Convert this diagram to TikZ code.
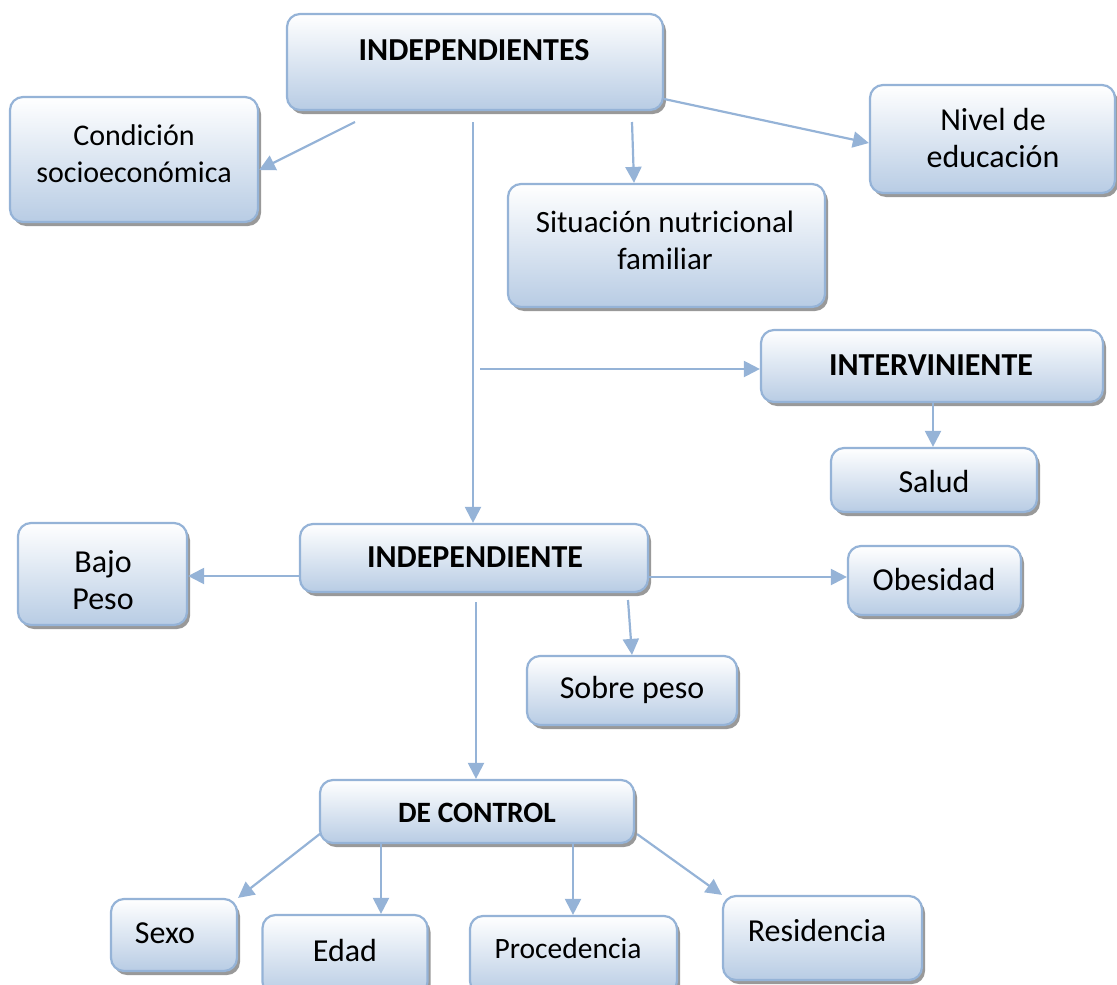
\documentclass[tikz,border=0pt]{standalone}
\usepackage{fontspec}
\setmainfont{Carlito}
\usetikzlibrary{shadows,arrows.meta}
\definecolor{boxborder}{HTML}{95B3D7}
\definecolor{boxblue}{HTML}{B8CCE4}
\definecolor{arrowblue}{HTML}{95B3D7}
\tikzset{
  box/.style={draw=boxborder, line width=2.2pt, rounded corners=13pt,
    top color=white, bottom color=boxblue, inner sep=0pt,
    drop shadow={shadow xshift=3pt, shadow yshift=-4pt, fill=gray!80, opacity=1}},
  txt/.style={inner sep=0pt, align=center, font=\fontsize{32}{37}\selectfont},
  btxt/.style={inner sep=0pt, align=center, font=\fontsize{32}{37}\selectfont\bfseries},
  arr/.style={draw=arrowblue, line width=2.2pt, -{Triangle[length=16pt,width=16pt]}},
}
\begin{document}
\begin{tikzpicture}[x=1pt,y=-1pt]
\useasboundingbox (0,0) rectangle (1117,985);
\clip (0,0) rectangle (1117,985);
% boxes
\node[box, minimum width=376pt, minimum height=96pt] (indeps) at (475,62) {};
\node[box, minimum width=248pt, minimum height=125pt] (cond) at (134,159.5) {};
\node[box, minimum width=245pt, minimum height=108pt] (nivel) at (992.5,139) {};
\node[box, minimum width=317pt, minimum height=123pt] (sit) at (666.5,245.5) {};
\node[box, minimum width=342pt, minimum height=72pt] (interv) at (932,366) {};
\node[box, minimum width=206pt, minimum height=64pt] (salud) at (934,480) {};
\node[box, minimum width=348pt, minimum height=68pt] (indep) at (474,558) {};
\node[box, minimum width=169pt, minimum height=102pt] (bajo) at (102.5,574) {};
\node[box, minimum width=173pt, minimum height=69pt] (obes) at (934.5,580.5) {};
\node[box, minimum width=210pt, minimum height=69pt] (sobre) at (632,690.5) {};
\node[box, minimum width=314pt, minimum height=63pt] (control) at (477,811.5) {};
\node[box, minimum width=126pt, minimum height=72pt] (sexo) at (174,935) {};
\node[box, minimum width=165pt, minimum height=80pt] (edad) at (345,955) {};
\node[box, minimum width=207pt, minimum height=78pt] (proc) at (573.5,955) {};
\node[box, minimum width=199pt, minimum height=84pt] (resid) at (822.5,938) {};
% texts
\node[btxt] (indeps-t) at (474,50) {INDEPENDIENTES};
\node[txt, font=\fontsize{30}{37}\selectfont] (cond-t) at (134,153.5) {Condición\\socioeconómica};
\node[txt] (nivel-t) at (993,138.5) {Nivel de\\educación};
\node[txt, font=\fontsize{31}{37}\selectfont] (sit-t) at (665,240) {Situación nutricional\\familiar};
\node[btxt] (interv-t) at (931,365) {INTERVINIENTE};
\node[txt] (salud-t) at (934,482) {Salud};
\node[btxt] (indep-t) at (475,557) {INDEPENDIENTE};
\node[txt] (bajo-t) at (103,580) {Bajo\\Peso};
\node[txt] (obes-t) at (934,580) {Obesidad};
\node[txt] (sobre-t) at (632,690) {Sobre peso};
\node[btxt, font=\fontsize{29.5}{37}\selectfont\bfseries] (control-t) at (477,813) {DE CONTROL};
\node[txt] (sexo-t) at (165,933) {Sexo};
\node[txt] (edad-t) at (345,950) {Edad};
\node[txt, font=\fontsize{29.5}{37}\selectfont] (proc-t) at (568,948) {Procedencia};
\node[txt] (resid-t) at (817,930) {Residencia};
% free ends
\coordinate (s1) at (355,122);
\coordinate (s2) at (632,122);
\coordinate (s3) at (473,122);
\coordinate (s4) at (480,369);
\coordinate (s5) at (628,600);
\coordinate (s6) at (476,602);
% connectors
\draw[arr] (s1) -- (cond.east |- 0,170);
\draw[arr] (indeps.east |- 0,99) -- (nivel.west |- 0,143);
\draw[arr] (s2) -- (sit.north -| 634,0);
\draw[arr] (s3) -- (indep.north -| 473,0);
\draw[arr] (s4) -- (interv.west |- 0,369);
\draw[arr] (interv.south -| 933,0) -- (salud.north -| 933,0);
\draw[arr] (indep.west |- 0,576) -- (bajo.east |- 0,576);
\draw[arr] (indep.east |- 0,577) -- (obes.west |- 0,577);
\draw[arr] (s5) -- (sobre.north -| 632,0);
\draw[arr] (s6) -- (control.north -| 476,0);
\draw[arr] (control.south west) ++(2,-11) coordinate (c1) (c1) -- (sexo.north east);
\draw[arr] (control.south -| 381,0) -- (edad.north -| 381,0);
\draw[arr] (control.south -| 573,0) -- (proc.north -| 573,0);
\draw[arr] (control.south east) ++(2,-10) coordinate (c4) (c4) -- (resid.north west);
\end{tikzpicture}
\end{document}
